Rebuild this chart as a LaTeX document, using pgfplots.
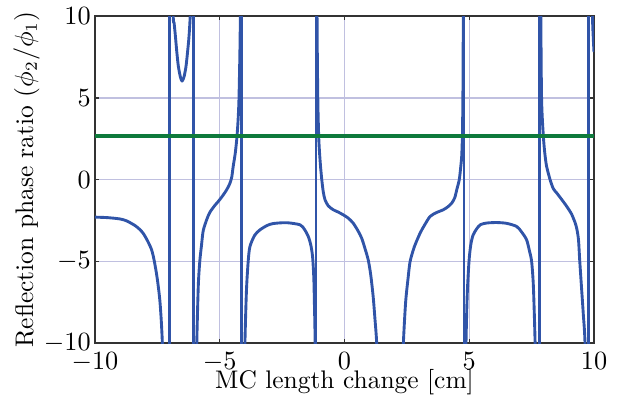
\documentclass[border=0pt]{standalone}
\usepackage{pgfplots}
\pgfplotsset{compat=1.18}
\definecolor{cblue}{RGB}{48,84,168}
\definecolor{cgreen}{RGB}{14,122,60}
\definecolor{cgrid}{RGB}{192,192,224}
\tikzset{bl/.style={cblue, line width=1.2pt, line join=round, mark=none}}
\begin{document}
\begin{tikzpicture}
\begin{axis}[
  scale only axis,
  width=207.92pt, height=136.25pt,
  xmin=-10, xmax=10, ymin=-10, ymax=10,
  xtick={-10,-5,0,5,10}, ytick={-10,-5,0,5,10},
  grid=major,
  major grid style={cgrid, line width=0.55pt},
  axis line style={black!80, line width=0.6pt},
  major tick length=1.7pt,
  every tick/.style={black!80, line width=0.6pt},
  tick label style={font=\fontsize{10.5}{12.6}\selectfont},
  label style={font=\fontsize{10.6}{12.7}\selectfont, inner sep=0pt},
  xticklabel style={inner ysep=0.5pt, yshift=-3pt},
  yticklabel style={inner xsep=0.5pt, xshift=-1.1pt},
  xlabel={MC length change [cm]},
  ylabel={Reflection phase ratio ($\phi_2/\phi_1$)},
  xlabel style={at={(axis description cs:0.5,-0.1385)}, anchor=base},
  ylabel style={at={(axis description cs:-0.1242,0.5)}, anchor=base},
]
% curve segments
\addplot[bl, smooth, tension=0.45] coordinates {
(-10,-2.29) (-9.5,-2.32) (-9,-2.40) (-8.73,-2.52) (-8.4,-2.8) (-8.2,-3.05) (-8.06,-3.3) (-7.9,-3.72) (-7.73,-4.29) (-7.62,-5) (-7.5,-6.1) (-7.39,-7.57) (-7.30,-10) (-7.22,-15) (-7.17,-25)};
\addplot[bl] coordinates {(-7.03,-30) (-7.03,30)};
\addplot[bl, smooth, tension=0.45] coordinates {
(-6.92,20) (-6.87,10.5) (-6.83,9.6) (-6.79,9) (-6.72,7.8) (-6.66,6.95) (-6.58,6.3) (-6.51,6.03) (-6.43,6.3) (-6.36,6.85) (-6.32,7.36) (-6.24,8.6) (-6.19,9.8) (-6.15,11.5) (-6.10,20)};
\addplot[bl] coordinates {(-6.06,30) (-6.06,-30)};
\addplot[bl, smooth, tension=0.45] coordinates {
(-5.97,-15) (-5.92,-10) (-5.86,-6.5) (-5.80,-5) (-5.73,-4) (-5.66,-3.1) (-5.5,-2.35) (-5.39,-1.98) (-5.2,-1.58) (-5.07,-1.35) (-4.9,-1.02) (-4.72,-0.61) (-4.60,-0.25) (-4.52,0.15) (-4.46,0.82) (-4.38,1.6) (-4.32,2.45) (-4.27,3.5) (-4.23,4.9) (-4.19,8) (-4.17,11) (-4.15,20)};
\addplot[bl] coordinates {(-4.12,30) (-4.12,-30)};
\addplot[bl, smooth, tension=0.45] coordinates {
(-4.02,-14) (-3.99,-10) (-3.93,-6.8) (-3.86,-5) (-3.79,-4.09) (-3.6,-3.4) (-3.39,-3.07) (-3.1,-2.8) (-2.85,-2.68) (-2.32,-2.63) (-1.78,-2.76) (-1.6,-3.05) (-1.45,-3.48) (-1.35,-4.0) (-1.28,-4.7) (-1.23,-6) (-1.20,-8) (-1.18,-10) (-1.16,-20)};
\addplot[bl] coordinates {(-1.14,-30) (-1.14,30)};
\addplot[bl, smooth, tension=0.45] coordinates {
(-1.12,20) (-1.10,10) (-1.07,5) (-1.03,2.5) (-0.97,1) (-0.91,0) (-0.85,-0.75) (-0.78,-1.23) (-0.65,-1.6) (-0.45,-1.84) (-0.25,-1.98) (-0.05,-2.15) (0.15,-2.35) (0.35,-2.66) (0.55,-3.15) (0.69,-3.58) (0.82,-4.2) (0.95,-4.9) (1.05,-5.8) (1.15,-7.16) (1.22,-8.5) (1.29,-10) (1.35,-13)};
\addplot[bl, smooth, tension=0.45] coordinates {
(2.30,-13) (2.36,-10) (2.45,-7.5) (2.55,-6) (2.63,-5) (2.8,-4.1) (3.03,-3.27) (3.2,-2.8) (3.43,-2.25) (3.7,-2.0) (3.96,-1.84) (4.15,-1.65) (4.30,-1.43) (4.42,-1.1) (4.50,-0.61) (4.60,0) (4.66,0.8) (4.70,1.5) (4.73,3) (4.75,6) (4.76,10) (4.77,20)};
\addplot[bl] coordinates {(4.79,30) (4.79,-30)};
\addplot[bl, smooth, tension=0.45] coordinates {
(4.85,-13) (4.87,-10) (4.92,-7) (4.99,-5) (5.06,-4.0) (5.15,-3.4) (5.3,-3.0) (5.45,-2.75) (5.7,-2.65) (6.1,-2.62) (6.5,-2.67) (6.9,-2.86) (7.1,-3.2) (7.3,-3.68) (7.42,-4.4) (7.5,-5) (7.57,-6.5) (7.64,-10) (7.70,-15)};
\addplot[bl] coordinates {(7.80,-30) (7.80,30)};
\addplot[bl, smooth, tension=0.45] coordinates {
(7.82,30) (7.84,20) (7.87,10) (7.90,4.9) (7.97,2.66) (8.03,1.6) (8.10,0.82) (8.24,0) (8.37,-0.55) (8.51,-0.82) (8.7,-1.2) (8.91,-1.64) (9.1,-2.1) (9.25,-2.66) (9.32,-3.07) (9.38,-3.7) (9.43,-5) (9.50,-6.6) (9.57,-8.2) (9.64,-10) (9.70,-15)};
\addplot[bl] coordinates {(9.77,-30) (9.77,30)};
\addplot[bl, smooth, tension=0.45] coordinates {
(9.91,16) (9.92,14) (9.94,10) (9.97,8.7) (10,7.8)};
\addplot[cgreen, line width=1.9pt, mark=none] coordinates {(-10,2.67) (10,2.67)};
\end{axis}
\pgfresetboundingbox
\path (-39.58pt,-22.92pt) rectangle (223.75pt,143pt);
\end{tikzpicture}
\end{document}
